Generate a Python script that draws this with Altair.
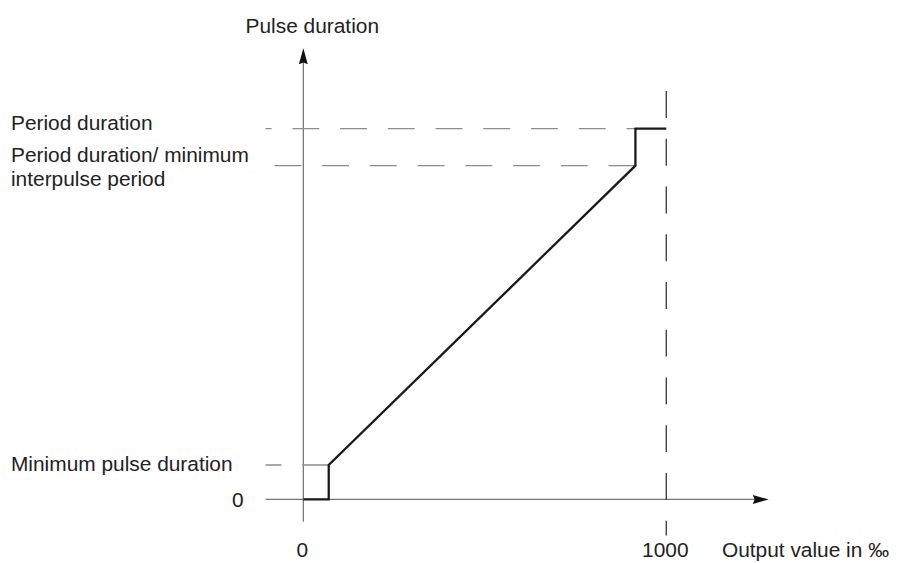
import altair as alt
import pandas as pd

# ---- characteristic curve (output value in permille -> pulse duration, % of period) ----
output_permille = [0, 70, 70, 915, 915, 1000]
pulse_duration = [0, 0, 9.3, 90, 100, 100]

# characteristic levels on the pulse-duration axis
level_min_pulse = 9.3
level_interpulse = 90
level_period = 100
level_zero = 0

# x tick values / labels
x_tick_values = [0, 1000]
x_tick_labels = ["0", "1000"]

y_level_labels = ["Period duration", "Period duration/ minimum\ninterpulse period",
                  "Minimum pulse duration", "0"]

FONT = "Liberation Sans"
TXT = "#222222"
AXIS_C = "#777777"
DASH_C = "#8c8c8c"

xs = alt.Scale(domain=[-813.7, 1602.7], nice=False, zero=False)
ys = alt.Scale(domain=[-14.56, 132.09], nice=False, zero=False)

one = pd.DataFrame({"k": [0]})
curve = pd.DataFrame({"x": output_permille, "y": pulse_duration,
                      "o": list(range(len(output_permille)))})


def X(v):
    return alt.X(datum=v, scale=xs, axis=None)


def Y(v):
    return alt.Y(datum=v, scale=ys, axis=None)


def hrule(x0, x1, y, color, width, dash=None, offset=0):
    kw = dict(color=color, strokeWidth=width)
    if dash:
        kw["strokeDash"] = dash
        kw["strokeDashOffset"] = offset
    return alt.Chart(one).mark_rule(**kw).encode(x=X(x0), x2=alt.X2(datum=x1), y=Y(y))


def vrule(x, y0, y1, color, width, dash=None, offset=0):
    kw = dict(color=color, strokeWidth=width)
    if dash:
        kw["strokeDash"] = dash
        kw["strokeDashOffset"] = offset
    return alt.Chart(one).mark_rule(**kw).encode(x=X(x), y=Y(y0), y2=alt.Y2(datum=y1))


ARROW = "M0,-1L0.56,1L0,0.78L-0.56,1Z"

layers = []
# axes
layers.append(vrule(0, -5.98, 119.5, AXIS_C, 1.3))
layers.append(hrule(-104.1, 1260.3, level_zero, AXIS_C, 1.3))
layers.append(alt.Chart(one).mark_point(shape=ARROW, filled=True, size=256, opacity=1,
                                        color="#111111", strokeWidth=0)
              .encode(x=X(0), y=Y(119.5)))
layers.append(alt.Chart(one).mark_point(shape=ARROW, filled=True, size=256, opacity=1,
                                        color="#111111", strokeWidth=0, angle=90)
              .encode(x=X(1260.3), y=Y(level_zero)))

# dashed guide lines
layers.append(hrule(-104.1, 915, level_period, DASH_C, 1.3, [27, 21], 21))
layers.append(hrule(-79.5, 915, level_interpulse, DASH_C, 1.3, [27, 21], 0))
layers.append(hrule(-104.1, 70, level_min_pulse, DASH_C, 1.3, [27, 21], 11))
layers.append(vrule(1000, 110.1, -9.73, "#333333", 1.3, [27, 21], 0))

# characteristic curve
layers.append(alt.Chart(curve).mark_line(color="#1a1a1a", strokeWidth=2.3, strokeJoin="miter")
              .encode(x=alt.X("x:Q", scale=xs, axis=None),
                      y=alt.Y("y:Q", scale=ys, axis=None),
                      order="o:O"))

# y-level labels
def ylabel(text, value, dy, x=3, align="left"):
    return alt.Chart(one).mark_text(text=text, align=align, baseline="alphabetic",
                                    font=FONT, fontSize=21, color=TXT, dy=dy,
                                    lineBreak="\n", lineHeight=24).encode(
        x=alt.value(x), y=Y(value))

layers.append(ylabel(y_level_labels[0], level_period, 1.3))
layers.append(ylabel(y_level_labels[1], level_interpulse, -3.3))
layers.append(ylabel(y_level_labels[2], level_min_pulse, 5.7))
layers.append(ylabel(y_level_labels[3], level_zero, 7.3, x=237, align="right"))

# x tick labels
xt = pd.DataFrame({"v": x_tick_values, "t": x_tick_labels})
layers.append(alt.Chart(xt).mark_text(align="center", baseline="alphabetic", font=FONT,
                                      fontSize=21, color=TXT, dx=-1)
              .encode(x=alt.X("v:Q", scale=xs, axis=None), y=alt.value(551),
                      text="t:N"))

# axis titles
layers.append(alt.Chart(one).mark_text(text="Pulse duration", align="center",
                                       baseline="alphabetic", font=FONT, fontSize=21,
                                       color=TXT)
              .encode(x=alt.value(306), y=alt.value(24)))
layers.append(alt.Chart(one).mark_text(text="Output value in ‰", align="left",
                                       baseline="alphabetic", font=FONT, fontSize=21,
                                       color=TXT)
              .encode(x=alt.value(718), y=alt.value(551)))

chart = alt.layer(*layers).properties(width=882, height=547, padding=0).configure_view(
    stroke=None)

chart.save("out.html", embed_options={"renderer": "svg", "actions": False})
